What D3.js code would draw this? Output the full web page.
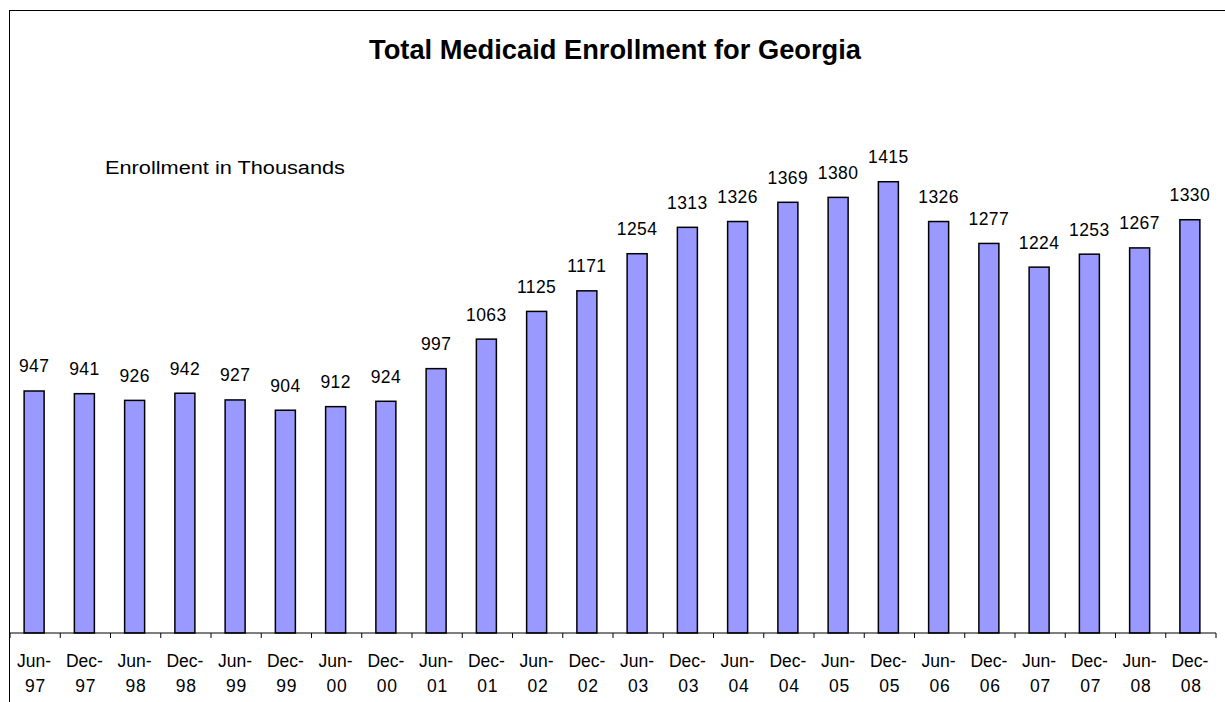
<!DOCTYPE html>
<html><head><meta charset="utf-8">
<script src="https://cdn.jsdelivr.net/npm/d3@7"></script>
<style>body{margin:0;background:#fff}svg{display:block;font-family:"Liberation Sans",Arial,sans-serif}</style>
</head><body>
<svg id="c" width="1225" height="702"></svg>
<script>
const months = ["Jun-","Dec-","Jun-","Dec-","Jun-","Dec-","Jun-","Dec-","Jun-","Dec-","Jun-","Dec-","Jun-","Dec-","Jun-","Dec-","Jun-","Dec-","Jun-","Dec-","Jun-","Dec-","Jun-","Dec-"];
const years = ["97","97","98","98","99","99","00","00","01","01","02","02","03","03","04","04","05","05","06","06","07","07","08","08"];
const enrollment = [947,941,926,942,927,904,912,924,997,1063,1125,1171,1254,1313,1326,1369,1380,1415,1326,1277,1224,1253,1267,1330];
const categories = months.map((m,i)=>m+years[i]);
const title = "Total Medicaid Enrollment for Georgia";
const subtitle = "Enrollment in Thousands";

const svg = d3.select("#c");
// frame
svg.append("line").attr("x1",9.5).attr("x2",9.5).attr("y1",10).attr("y2",702).attr("stroke","#000").attr("stroke-width",1);
svg.append("line").attr("x1",9.5).attr("x2",1225).attr("y1",10.5).attr("y2",10.5).attr("stroke","#000").attr("stroke-width",1);

const axisY = 633;
const x = d3.scaleBand().domain(categories).range([10,1216]).padding(0);
const y = d3.scaleLinear().domain([400,1600]).range([635.6,99]);
const barW = 20;
const cx = c => x(c) + x.bandwidth()/2 - 1;

svg.append("text").attr("x",615).attr("y",58.5).attr("text-anchor","middle")
  .attr("font-size",27).attr("font-weight","bold")
  .attr("textLength",492).attr("lengthAdjust","spacingAndGlyphs").text(title);
svg.append("text").attr("x",105).attr("y",174).attr("font-size",18)
  .attr("textLength",240).attr("lengthAdjust","spacingAndGlyphs").text(subtitle);

svg.selectAll("rect.bar").data(enrollment).join("rect").attr("class","bar")
  .attr("x",(d,i)=>cx(categories[i])-barW/2).attr("width",barW)
  .attr("y",d=>y(d)).attr("height",d=>axisY-y(d))
  .attr("fill","#9999FF").attr("stroke","#000").attr("stroke-width",1.5);

svg.selectAll("text.val").data(enrollment).join("text").attr("class","val")
  .attr("x",(d,i)=>cx(categories[i])).attr("y",d=>y(d)-18.5)
  .attr("text-anchor","middle").attr("font-size",17.5).attr("letter-spacing",0.4).text(d=>d);

// axis
const bounds = categories.map(c=>x(c)).concat([x.range()[1]]);
const ax = svg.append("g");
ax.append("line").attr("x1",10).attr("x2",1216).attr("y1",axisY).attr("y2",axisY).attr("stroke","#000").attr("stroke-width",1.2);
ax.selectAll("line.t").data(bounds).join("line").attr("class","t")
  .attr("x1",d=>d).attr("x2",d=>d).attr("y1",axisY).attr("y2",axisY+5).attr("stroke","#000");
categories.forEach((c,i)=>{
  const mx = x(c)+x.bandwidth()/2;
  const t = ax.append("text").attr("text-anchor","middle").attr("font-size",17.5);
  t.append("tspan").attr("x",mx-1).attr("y",666.5).text(months[i]);
  t.append("tspan").attr("x",mx+0.5).attr("y",692).attr("letter-spacing",0.8).text(years[i]);
});
</script>
</body></html>
